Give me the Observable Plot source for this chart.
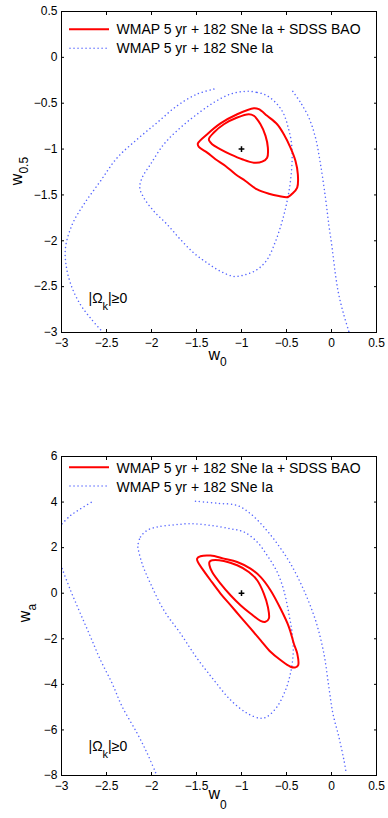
<!DOCTYPE html>
<html><head><meta charset="utf-8">
<script src="https://cdn.jsdelivr.net/npm/d3@7"></script>
<script src="https://cdn.jsdelivr.net/npm/@observablehq/plot@0.6"></script>
<style>
html,body{margin:0;padding:0;background:#fff;}
#chart{width:388px;height:818px;position:relative;overflow:hidden;}
#chart svg{display:block;}
</style></head><body><div id="chart"></div>
<script>
// ---------- text ----------
const legendLabels = ["WMAP 5 yr + 182 SNe Ia + SDSS BAO", "WMAP 5 yr + 182 SNe Ia"];
const priorNote = ["|Ω", "k", "|≥0"];
const xLabel = ["w", "0"];
const yLabelTop = ["w", "0.5"];
const yLabelBottom = ["w", "a"];

// ---------- ticks ----------
const xTicks = [-3, -2.5, -2, -1.5, -1, -0.5, 0, 0.5];
const yTicksTop = [-3, -2.5, -2, -1.5, -1, -0.5, 0, 0.5];
const yTicksBottom = [-8, -6, -4, -2, 0, 2, 4, 6];

// ---------- top panel (w0, w0.5) ----------
const topFiducial = [[-1, -1]];
const topRedOuter = [[-1.485,-0.94],[-1.381,-0.838],[-1.233,-0.72],[-1.048,-0.62],[-0.863,-0.554],[-0.808,-0.564],[-0.715,-0.637],[-0.604,-0.729],[-0.53,-0.838],[-0.456,-0.984],[-0.4,-1.13],[-0.374,-1.275],[-0.381,-1.42],[-0.437,-1.487],[-0.485,-1.523],[-0.585,-1.512],[-0.696,-1.487],[-0.826,-1.44],[-0.956,-1.348],[-1.067,-1.275],[-1.178,-1.184],[-1.289,-1.111],[-1.381,-1.039],[-1.474,-0.977]];
const topRedInner = [[-1.363,-0.893],[-1.307,-0.82],[-1.196,-0.729],[-1.048,-0.656],[-0.919,-0.62],[-0.863,-0.637],[-0.789,-0.729],[-0.733,-0.856],[-0.707,-0.984],[-0.715,-1.094],[-0.77,-1.137],[-0.863,-1.148],[-0.993,-1.111],[-1.122,-1.057],[-1.233,-1.002],[-1.326,-0.947]];
const topBlueInner = [[-0.956,-0.371],[-0.826,-0.382],[-0.715,-0.419],[-0.604,-0.51],[-0.53,-0.619],[-0.481,-0.766],[-0.448,-0.911],[-0.437,-1.094],[-0.456,-1.348],[-0.493,-1.567],[-0.548,-1.786],[-0.622,-2.005],[-0.715,-2.205],[-0.826,-2.314],[-0.956,-2.369],[-1.085,-2.388],[-1.233,-2.333],[-1.381,-2.242],[-1.53,-2.133],[-1.678,-1.986],[-1.826,-1.822],[-1.974,-1.677],[-2.085,-1.531],[-2.13,-1.421],[-2.104,-1.312],[-2.011,-1.166],[-1.863,-0.947],[-1.678,-0.766],[-1.493,-0.619],[-1.307,-0.492],[-1.122,-0.4]];
const topBlueOuterLeft = [[-1.307,-0.346],[-1.493,-0.4],[-1.715,-0.528],[-1.937,-0.711],[-2.159,-0.893],[-2.381,-1.094],[-2.567,-1.348],[-2.752,-1.603],[-2.881,-1.822],[-2.956,-2.078],[-2.944,-2.297],[-2.881,-2.515],[-2.789,-2.697],[-2.678,-2.843],[-2.548,-2.99]];
const topBlueOuterRight = [[-0.43,-0.371],[-0.344,-0.492],[-0.252,-0.656],[-0.178,-0.875],[-0.122,-1.166],[-0.067,-1.531],[-0.03,-1.822],[0.007,-2.078],[0.044,-2.369],[0.081,-2.588],[0.137,-2.807],[0.193,-2.99]];

// ---------- bottom panel (w0, wa) ----------
const botFiducial = [[-1, 0]];
const botRedOuter = [[-1.493,1.518],[-1.456,1.62],[-1.344,1.65],[-1.196,1.518],[-1.048,1.372],[-0.9,1.08],[-0.789,0.715],[-0.678,0.131],[-0.567,-0.672],[-0.474,-1.474],[-0.419,-2.204],[-0.381,-2.642],[-0.37,-3.153],[-0.4,-3.255],[-0.456,-3.226],[-0.567,-2.934],[-0.678,-2.569],[-0.789,-2.058],[-0.9,-1.547],[-1.011,-1.036],[-1.122,-0.526],[-1.233,-0.015],[-1.344,0.569],[-1.437,1.08],[-1.485,1.372]];
const botRedInner = [[-1.356,1.372],[-1.326,1.445],[-1.196,1.416],[-1.048,1.226],[-0.919,0.934],[-0.826,0.569],[-0.752,-0.015],[-0.707,-0.599],[-0.696,-1.109],[-0.733,-1.255],[-0.789,-1.212],[-0.9,-0.891],[-1.011,-0.526],[-1.122,-0.088],[-1.233,0.423],[-1.326,0.934],[-1.356,1.226]];
const botBlueInner = [[-2.152,2.1],[-2.122,2.47],[-2.048,2.76],[-1.937,2.91],[-1.752,3.0],[-1.567,3.05],[-1.344,2.98],[-1.122,2.83],[-0.974,2.69],[-0.826,2.25],[-0.715,1.66],[-0.604,0.934],[-0.53,0.131],[-0.474,-0.891],[-0.437,-1.766],[-0.426,-2.642],[-0.456,-3.518],[-0.511,-4.248],[-0.604,-4.978],[-0.715,-5.416],[-0.789,-5.49],[-0.937,-5.27],[-1.122,-4.686],[-1.307,-3.81],[-1.493,-2.86],[-1.678,-1.766],[-1.863,-0.745],[-2.011,0.423],[-2.104,1.299],[-2.152,2.03]];
const botBlueOuterTopLeft = [[-2.993,3.05],[-2.9,3.41],[-2.79,3.7],[-2.648,4.04]];
const botBlueOuterRight = [[-1.511,4.04],[-1.27,3.95],[-1.048,3.85],[-0.9,3.49],[-0.752,2.91],[-0.604,2.18],[-0.456,1.3],[-0.307,0.131],[-0.178,-1.18],[-0.085,-2.64],[-0.03,-4.1],[0.015,-5.27],[0.081,-6.29],[0.137,-7.3],[0.16,-7.8]];
const botBlueOuterLeft = [[-2.993,1.08],[-2.9,0.131],[-2.79,-0.891],[-2.678,-1.91],[-2.567,-2.93],[-2.437,-3.96],[-2.326,-4.978],[-2.159,-6.15],[-2.048,-7.02],[-1.944,-7.97]];

// ---------- styles ----------
const FONT = "'Liberation Sans', Arial, Helvetica, sans-serif";
const RED = "#ff0000";
const BLUE = "#3a4cff";
const DOTS = "0.01 4";
const fmt = d => (d < 0 ? "\u2212" : "") + Math.abs(d);
const XY = {x: d => d[0], y: d => d[1]};
const dotted = {stroke: BLUE, strokeWidth: 1.5, strokeDasharray: DOTS, strokeLinecap: "round", strokeOpacity: 0.85};

function panel(cfg) {
  const marks = [];
  for (const c of cfg.blueOpen) marks.push(Plot.line(c, {...XY, ...dotted, curve: "catmull-rom"}));
  for (const c of cfg.blueClosed) marks.push(Plot.line(c, {...XY, ...dotted, curve: "catmull-rom-closed"}));
  for (const c of cfg.red) marks.push(Plot.line(c, {...XY, stroke: RED, strokeWidth: 2, curve: "catmull-rom-closed"}));
  marks.push(Plot.dot(cfg.fiducial, {...XY, symbol: "plus", r: 2, stroke: "black", strokeWidth: 1.5}));
  marks.push(Plot.axisX(xTicks, {anchor: "bottom", tickSize: -3, tickPadding: 9, tickFormat: fmt, label: null, fontSize: 12}));
  marks.push(Plot.axisX(xTicks, {anchor: "top", tickSize: -3, tickFormat: () => "", label: null}));
  marks.push(Plot.axisY(cfg.yTicks, {anchor: "left", tickSize: -3, tickPadding: 7, tickFormat: fmt, label: null, fontSize: 12}));
  marks.push(Plot.axisY(cfg.yTicks, {anchor: "right", tickSize: -3, tickFormat: () => "", label: null}));
  marks.push(Plot.frame({stroke: "black", strokeWidth: 1}));
  const svg = Plot.plot({
    width: 388, height: cfg.height,
    marginLeft: 61, marginRight: 12, marginTop: cfg.marginTop, marginBottom: cfg.marginBottom,
    x: {domain: [-3, 0.5]}, y: {domain: cfg.yDomain},
    style: {fontFamily: FONT, fontSize: "12px", background: "white", color: "black", overflow: "visible"},
    marks
  });
  const s = d3.select(svg);
  const g = s.append("g").attr("font-family", FONT).attr("fill", "black").attr("text-anchor", "start");
  // legend
  const L = cfg.legend;
  g.append("line").attr("x1", 69).attr("x2", 109).attr("y1", L.y1).attr("y2", L.y1)
    .attr("stroke", RED).attr("stroke-width", 2);
  g.append("line").attr("x1", 70).attr("x2", 109).attr("y1", L.y2).attr("y2", L.y2)
    .attr("stroke", BLUE).attr("stroke-width", 1.5).attr("stroke-dasharray", DOTS)
    .attr("stroke-linecap", "round").attr("stroke-opacity", 0.85);
  g.append("text").attr("x", 116.5).attr("y", L.b1).attr("font-size", 14).text(legendLabels[0]);
  g.append("text").attr("x", 116.5).attr("y", L.b2).attr("font-size", 14).text(legendLabels[1]);
  // prior note
  const n = g.append("text").attr("x", 88.5).attr("y", cfg.noteY).attr("font-size", 14);
  n.append("tspan").text(priorNote[0]);
  n.append("tspan").attr("dy", 7).attr("font-size", 11).text(priorNote[1]);
  n.append("tspan").attr("dy", -7).text(priorNote[2]);
  // x label
  const xl = g.append("text").attr("x", 208.5).attr("y", cfg.xLabelY).attr("font-size", 16);
  xl.append("tspan").text(xLabel[0]);
  xl.append("tspan").attr("dy", cfg.xSubDy).attr("font-size", 12).text(xLabel[1]);
  // y label
  const yl = g.append("text").attr("transform", `translate(${cfg.yLabelX},${cfg.yLabelY}) rotate(-90)`)
    .attr("text-anchor", "middle").attr("font-size", 16);
  yl.append("tspan").text(cfg.yLabel[0]);
  yl.append("tspan").attr("dy", 6).attr("font-size", 12).text(cfg.yLabel[1]);
  return svg;
}

const chart = document.getElementById("chart");
chart.appendChild(panel({
  height: 410, marginTop: 11, marginBottom: 78, yDomain: [-3, 0.5], yTicks: yTicksTop,
  blueOpen: [topBlueOuterLeft, topBlueOuterRight], blueClosed: [topBlueInner],
  red: [topRedOuter, topRedInner], fiducial: topFiducial,
  legend: {y1: 29.3, y2: 48.3, b1: 34.3, b2: 53.3},
  noteY: 303, xLabelY: 360, xSubDy: 6, yLabel: yLabelTop, yLabelX: 22, yLabelY: 171
}));
chart.appendChild(panel({
  height: 408, marginTop: 46, marginBottom: 43, yDomain: [-8, 6], yTicks: yTicksBottom,
  blueOpen: [botBlueOuterTopLeft, botBlueOuterRight, botBlueOuterLeft], blueClosed: [botBlueInner],
  red: [botRedOuter, botRedInner], fiducial: botFiducial,
  legend: {y1: 57.3, y2: 76, b1: 62.7, b2: 81.7},
  noteY: 341, xLabelY: 389, xSubDy: 10, yLabel: yLabelBottom, yLabelX: 30, yLabelY: 203
}));
</script></body></html>
